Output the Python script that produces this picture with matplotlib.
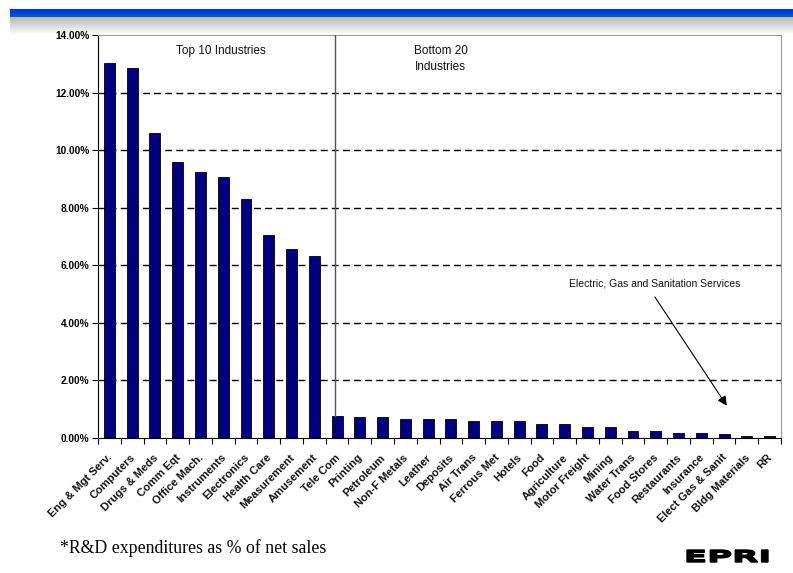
import matplotlib
matplotlib.use("Agg")
import matplotlib.pyplot as plt
import numpy as np
from matplotlib.patches import PathPatch
from matplotlib.textpath import TextPath
from matplotlib.font_manager import FontProperties
from matplotlib.transforms import Affine2D

plt.rcParams["font.family"] = ["Liberation Sans", "DejaVu Sans"]

industries = ["Eng & Mgt Serv.", "Computers", "Drugs & Meds", "Comm Eqt", "Office Mach.",
              "Instruments", "Electronics", "Health Care", "Measurement", "Amusement",
              "Tele Com", "Printing", "Petroleum", "Non-F Metals", "Leather", "Deposits",
              "Air Trans", "Ferrous Met", "Hotels", "Food", "Agriculture", "Motor Freight",
              "Mining", "Water Trans", "Food Stores", "Restaurants", "Insurance",
              "Elect Gas & Sanit", "Bldg Materials", "RR"]
rd_pct = [13.02, 12.85, 10.58, 9.60, 9.23, 9.08, 8.30, 7.05, 6.55, 6.32,
          0.78, 0.72, 0.72, 0.67, 0.67, 0.67, 0.60, 0.60, 0.60, 0.49,
          0.49, 0.39, 0.39, 0.23, 0.23, 0.18, 0.18, 0.13, 0.07, 0.07]
y_ticks = [0, 2, 4, 6, 8, 10, 12, 14]
N_TOP = 10

fig = plt.figure(figsize=(7.93, 5.73), dpi=100)

# header band: blue strip fading into grey
band = fig.add_axes([10 / 793, 1 - 34 / 573, 783 / 793, 25 / 573])
rows = 25
img = np.ones((rows, 2, 3))
for r in range(rows):
    if r < 8:
        img[r, :] = [0.0, 0.2 + 0.02 * r, 0.85]
    else:
        t = (r - 8) / (rows - 8)
        g = 0.72 + 0.28 * t
        img[r, :] = [g, g + 0.01 * (1 - t), g]
band.imshow(np.clip(img, 0, 1), aspect="auto", interpolation="bilinear")
band.axis("off")

ax = fig.add_axes([98 / 793, 1 - 438 / 573, 683 / 793, 403 / 573])
x = np.arange(len(industries))
ax.bar(x, rd_pct, width=0.48, color="#000080", edgecolor="black", linewidth=0.6, zorder=3)

ax.set_xlim(-0.5, len(industries) - 0.5)
ax.set_ylim(0, 14)
ax.set_yticks(y_ticks)
ax.set_yticklabels([f"{v:.2f}%" for v in y_ticks], fontsize=7.3, fontweight="bold")
for v in y_ticks[1:-1]:
    ax.axhline(v, color="black", lw=1.0, ls=(0, (5, 3)), zorder=1)

# ticks sit on category boundaries
ax.set_xticks(np.arange(len(industries) + 1) - 0.5, minor=False)
ax.set_xticklabels([])
ax.tick_params(axis="x", length=4, direction="out", width=0.8)
ax.tick_params(axis="y", length=4, direction="out", width=0.8, pad=2)
for xi, name in zip(x, industries):
    ax.text(xi - 0.1, -0.5, name, rotation=45, ha="right", va="top",
            rotation_mode="anchor", fontsize=8, fontweight="bold", color="#111")

ax.spines["top"].set_color("#999999")
ax.spines["right"].set_color("#999999")
ax.spines["left"].set_linewidth(0.8)
ax.spines["bottom"].set_linewidth(0.8)

# split between top 10 and bottom 20
ax.plot([N_TOP - 0.1, N_TOP - 0.1], [rd_pct[N_TOP], 14], color="#555555", lw=1.0, zorder=4)
ax.text(4.9, 13.45, "Top 10 Industries", ha="center", va="center", fontsize=8.5, color="#111")
ax.text(13.4, 13.17, "Bottom 20\nIndustries", ha="left", va="center", fontsize=8.5,
        color="#111", linespacing=1.5)

ax.annotate("", xy=(27.12, 1.12), xytext=(23.96, 4.9),
            arrowprops=dict(arrowstyle="-|>", color="black", lw=0.8,
                            mutation_scale=14, shrinkA=0, shrinkB=0), zorder=5)
ax.text(23.96, 5.35, "Electric, Gas and Sanitation Services", ha="center", va="center",
        fontsize=7.5, color="#111")

fig.text(60 / 793, 1 - 548 / 573, "*R&D expenditures as % of net sales",
         family="Liberation Serif", fontsize=12.8, va="center", ha="left")

# logo, stretched to a wide block
tp = TextPath((0, 0), "EPRI", size=10, prop=FontProperties(family="DejaVu Sans", weight="heavy"))
bb = tp.get_extents()
sx = 81 / bb.width
sy = 12 / bb.height
tr = Affine2D().translate(-bb.x0, -bb.y0).scale(sx, sy).translate(687, 573 - 562)
fig.patches.append(PathPatch(tr.transform_path(tp), color="black", transform=None))

fig.savefig("out.png", dpi=100)
